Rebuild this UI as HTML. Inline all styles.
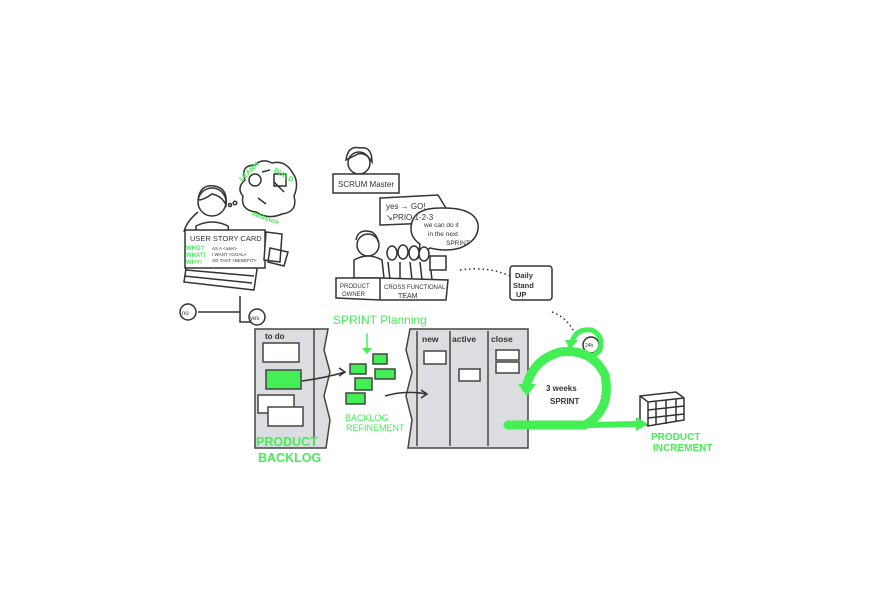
<!DOCTYPE html>
<html><head><meta charset="utf-8"><style>
html,body{margin:0;padding:0;background:#fff;width:887px;height:604px;overflow:hidden}
svg{display:block}
text{font-family:"Liberation Sans",sans-serif}
.g{fill:#44ee55;font-weight:bold}
.k{fill:#333}
</style></head><body>
<svg width="887" height="604" viewBox="0 0 887 604">
<g stroke="#333" stroke-width="1.5" fill="none">
<circle cx="212" cy="202" r="14" fill="#fff"/>
<path d="M198 200 Q200 184 214 186 Q228 188 226 205 Q222 196 212 194 Q204 200 198 200"/>
<path d="M198 212 Q186 222 184 232" />
<path d="M196 226 Q212 218 228 226 L230 240 L196 240Z" fill="#fff"/>
<circle cx="230" cy="205" r="1.5"/><circle cx="235" cy="203" r="1.8"/>
<path d="M245 180 Q240 165 255 165 Q262 158 272 163 Q285 160 292 172 Q300 182 294 196 Q298 212 282 214 Q268 220 256 212 Q240 210 243 196 Q236 188 245 180Z" fill="#fff"/>
<path d="M262 172 l8 -2 M274 182 l10 10 M258 198 l8 6"/>
<rect x="274" y="174" width="12" height="12"/>
<circle cx="255" cy="180" r="6"/>
<path d="M188 255 L258 262 L254 290 L184 282Z" fill="#fff"/>
<path d="M186 262 L256 268 M186 270 L254 276 M184 276 L252 283"/>
<rect x="185" y="230" width="80" height="38" fill="#fff"/>
<path d="M266 232 l16 2 l-2 28 l-16 -2Z M270 248 l18 4 l-4 14 l-16 -4Z" fill="#fff"/>
<path d="M198 312 L240 312 L240 296 M240 312 L240 322 L254 322"/>
<circle cx="188" cy="312" r="8" fill="#fff"/>
<circle cx="257" cy="317" r="8" fill="#fff"/>
<circle cx="359" cy="163" r="11" fill="#fff"/>
<path d="M346 160 Q348 145 360 148 Q372 146 372 162 Q366 152 358 154 Q350 158 346 160Z"/>
<rect x="333" y="174" width="66" height="19" fill="#fff"/>
<path d="M380 198 L438 195 L446 208 L432 223 L380 225Z" fill="#fff"/>
<path d="M412 222 Q416 208 440 208 Q474 207 478 224 Q480 240 460 248 Q446 252 430 248 L418 258 L420 244 Q408 236 412 222Z" fill="#fff"/>
<circle cx="368" cy="245" r="11" fill="#fff"/>
<path d="M356 240 Q358 228 372 232 Q378 236 378 242"/>
<path d="M354 260 Q368 252 382 260 L384 278 L354 278Z" fill="#fff"/>
<ellipse cx="392" cy="253" rx="5" ry="7" fill="#fff"/>
<ellipse cx="403" cy="252" rx="5" ry="7" fill="#fff"/>
<ellipse cx="414" cy="253" rx="5" ry="7" fill="#fff"/>
<ellipse cx="424" cy="254" rx="5" ry="7" fill="#fff"/>
<path d="M388 262 L390 280 M400 262 L400 280 M410 262 L412 280 M420 262 L422 280 M430 262 L432 280"/>
<rect x="430" y="256" width="16" height="14" fill="#fff"/>
<path d="M336 278 L380 278 L380 300 L336 298Z M380 278 L448 280 L446 300 L380 300Z" fill="#fff"/>
<path d="M460 270 Q488 266 510 276" stroke-dasharray="1.5 3"/>
<path d="M552 312 Q568 318 575 334" stroke-dasharray="1.5 3"/>
<rect x="510" y="266" width="42" height="34" rx="3" fill="#fff"/>
</g>
<g stroke="#444" stroke-width="1.5">
<path d="M255 329 L328 329 L324 350 L330 372 L324 396 L330 420 L326 448 L255 448Z" fill="#dcdde0"/>
<path d="M314 329 L314 446" fill="none"/>
<path d="M410 329 L528 329 L528 448 L408 448 L412 420 L406 396 L412 372 L406 350Z" fill="#dcdde0"/>
<path d="M417 331 L417 446 M450 331 L450 446 M488 331 L488 446" fill="none"/>
<g fill="#fff">
<rect x="263" y="343" width="36" height="19"/>
<rect x="266" y="370" width="35" height="19" fill="#44ee55"/>
<rect x="258" y="395" width="36" height="18"/>
<rect x="268" y="407" width="35" height="19"/>
<rect x="424" y="351" width="22" height="13"/>
<rect x="459" y="369" width="21" height="12"/>
<rect x="496" y="350" width="23" height="10"/>
<rect x="496" y="362" width="23" height="11"/>
<rect x="350" y="364" width="16" height="10" fill="#44ee55"/>
<rect x="373" y="354" width="14" height="10" fill="#44ee55"/>
<rect x="375" y="369" width="20" height="10" fill="#44ee55"/>
<rect x="355" y="378" width="17" height="12" fill="#44ee55"/>
<rect x="346" y="393" width="19" height="11" fill="#44ee55"/>
</g>
</g>
<g stroke="#333" stroke-width="1.5" fill="none">
<path d="M302 381 Q325 378 345 372"/><path d="M339 368 l6 4 l-6 4"/>
<path d="M385 396 Q405 390 427 394"/><path d="M421 390 l6 4 l-6 4"/>
<path d="M640 396 L676 392 L684 398 L684 420 L648 426 L640 420Z" fill="#fff"/>
<path d="M640 396 L648 402 L684 398 M648 402 L648 426 M656 401 L656 425 M666 400 L666 424 M676 399 L676 422 M648 410 L684 406 M648 418 L684 414"/>
<circle cx="591" cy="345" r="8" fill="#fff"/>
</g>
<g stroke="#44ee55" fill="none" stroke-linecap="round">
<path d="M508 425 L585 425 Q612 410 605 375 Q592 348 560 352 Q532 360 526 388" stroke-width="9"/>
<path d="M572 342 Q576 328 592 330 Q604 336 600 350 Q594 358 582 356" stroke-width="5"/>
<path d="M590 425 L638 424" stroke-width="6"/>
<path d="M367 334 L367 350" stroke-width="1.5"/>
</g>
<path class="g" d="M518 384 L536 384 L527 396Z"/>
<path class="g" d="M565 340 L578 340 L570 350Z"/>
<path class="g" d="M636 417 L648 424 L636 431Z"/>
<path class="g" d="M362 348 L372 348 L367 354Z"/>
<g class="k" font-size="8">
<text x="190" y="241" font-size="7.5">USER STORY CARD</text>
<text x="212" y="250" font-size="4.5">AS A &lt;user&gt;</text>
<text x="212" y="256" font-size="4.5">I WANT &lt;GOAL&gt;</text>
<text x="212" y="262" font-size="4.5">SO THAT &lt;BENEFIT&gt;</text>
<text x="182" y="315" font-size="6">no</text>
<text x="250" y="320" font-size="6">yes</text>
<text x="338" y="187" font-size="8">SCRUM Master</text>
<text x="386" y="209" font-size="8">yes → GO!</text>
<text x="386" y="220" font-size="8">↘PRIO 1-2-3</text>
<text x="424" y="227" font-size="6.5">we can do it</text>
<text x="428" y="236" font-size="6.5">in the next</text>
<text x="446" y="245" font-size="6.5">SPRINT</text>
<text x="340" y="288" font-size="6">PRODUCT</text>
<text x="342" y="296" font-size="6">OWNER</text>
<text x="384" y="289" font-size="6">CROSS FUNCTIONAL</text>
<text x="398" y="298" font-size="7">TEAM</text>
<text x="515" y="278" font-size="7.5" font-weight="bold">Daily</text>
<text x="513" y="288" font-size="7.5" font-weight="bold">Stand</text>
<text x="516" y="297" font-size="7.5" font-weight="bold">UP</text>
<text x="585" y="347" font-size="5">24h</text>
<text x="265" y="339" font-size="8" font-weight="bold">to do</text>
<text x="422" y="342" font-size="8.5" font-weight="bold">new</text>
<text x="452" y="342" font-size="8.5" font-weight="bold">active</text>
<text x="491" y="342" font-size="8.5" font-weight="bold">close</text>
<text x="546" y="391" font-size="8" font-weight="bold">3 weeks</text>
<text x="550" y="404" font-size="8" font-weight="bold">SPRINT</text>
</g>
<g class="g">
<text x="186" y="250" font-size="6">WHO?</text>
<text x="186" y="257" font-size="6">WHAT!</text>
<text x="186" y="264" font-size="6">WHY!</text>
<text x="238" y="180" font-size="7" transform="rotate(-45 242 176)">LEARN</text>
<text x="274" y="175" font-size="7" transform="rotate(30 280 172)">BUILD</text>
<text x="252" y="218" font-size="7" transform="rotate(20 260 214)">measure</text>
<text x="333" y="324" font-size="12" font-weight="normal">SPRINT Planning</text>
<text x="345" y="421" font-size="9" font-weight="normal">BACKLOG</text>
<text x="346" y="431" font-size="9" font-weight="normal">REFINEMENT</text>
<text x="256" y="446" font-size="12.5">PRODUCT</text>
<text x="258" y="462" font-size="12.5">BACKLOG</text>
<text x="651" y="440" font-size="10">PRODUCT</text>
<text x="653" y="451" font-size="10">INCREMENT</text>
</g>
</svg>
</body></html>
